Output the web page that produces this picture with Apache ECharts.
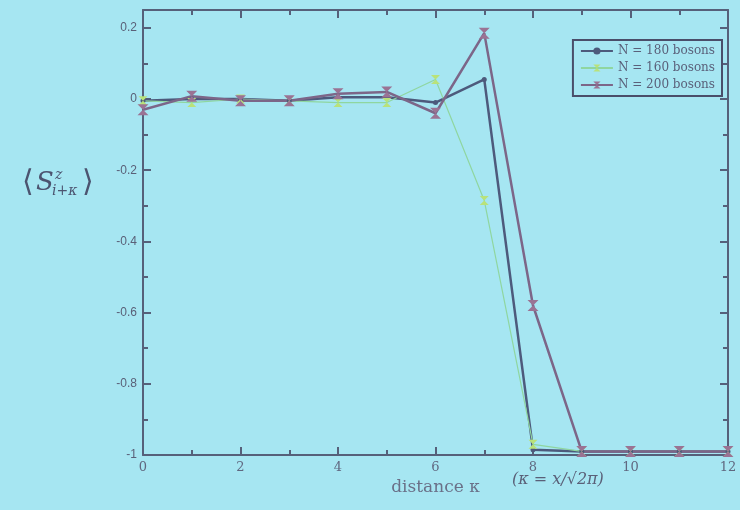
<!DOCTYPE html>
<html>
<head>
<meta charset="utf-8">
<script src="https://cdn.jsdelivr.net/npm/echarts@6/dist/echarts.min.js"></script>
<style>
html, body { margin: 0; padding: 0; background: #a6e6f2; }
#chart { width: 740px; height: 510px; }
</style>
</head>
<body>
<div id="chart"></div>
<script>
// distance kappa
var kappa = [0, 1, 2, 3, 4, 5, 6, 7, 8, 9, 10, 11, 12];
// <S^z_{i+k}>
var n180 = [-0.005, 0.0, 0.0, -0.005, 0.005, 0.005, -0.01, 0.055, -0.985, -0.99, -0.99, -0.99, -0.99];
var n160 = [-0.005, -0.01, 0.0, -0.005, -0.01, -0.01, 0.055, -0.285, -0.97, -0.99, -0.99, -0.99, -0.99];
var n200 = [-0.03, 0.008, -0.005, -0.005, 0.015, 0.02, -0.04, 0.185, -0.58, -0.99, -0.99, -0.99, -0.99];
var seriesNames = ['N = 180 bosons', 'N = 160 bosons', 'N = 200 bosons'];
var yTicks = { '0.2': '0.2', '0': '0', '-0.2': '-0.2', '-0.4': '-0.4', '-0.6': '-0.6', '-0.8': '-0.8', '-1': '-1' };

var serif = '"DejaVu Serif", "Liberation Serif", serif';
var axisCol = '#56607a';
var hourglass = 'path://M0,0L10,0L5,5L10,10L0,10L5,5Z';

function pairs(ys) {
	return kappa.map(function(k, i) { return [k, ys[i]]; });
}

// shared look of the frame axes
function frameAxis(extra) {
	var a = {
		type: 'value',
		axisLine: { show: true, onZero: false, lineStyle: { color: axisCol, width: 2 } },
		axisTick: { inside: true, length: 8, lineStyle: { color: axisCol, width: 2 } },
		minorTick: { show: true, splitNumber: 2, length: 5, lineStyle: { color: axisCol, width: 2 } },
		splitLine: { show: false },
		axisLabel: { show: false }
	};
	for (var k in extra) a[k] = extra[k];
	return a;
}

var chart = echarts.init(document.getElementById('chart'));
var option = {
	backgroundColor: '#a6e6f2',
	animation: false,
	grid: { left: 143, right: 12, top: 10, bottom: 55 },
	legend: {
		right: 18, top: 40,
		orient: 'vertical',
		itemGap: 5,
		itemWidth: 32, itemHeight: 9,
		padding: [5, 7],
		borderColor: '#4a4e6a', borderWidth: 2,
		textStyle: { fontFamily: serif, fontSize: 12, color: '#5a607a' },
		data: seriesNames
	},
	xAxis: [frameAxis({
		min: 0, max: 12, interval: 2, position: 'bottom',
		axisLabel: { fontFamily: serif, fontSize: 13, color: '#606880', margin: 6 },
		name: 'distance κ', nameLocation: 'middle', nameGap: 24,
		nameTextStyle: { fontFamily: serif, fontSize: 17, color: '#6a7088' }
	}), frameAxis({
		min: 0, max: 12, interval: 2, position: 'top'
	})],
	yAxis: [frameAxis({
		min: -1, max: 0.25, interval: 0.2, position: 'left',
		axisLabel: {
			fontFamily: '"Liberation Sans", sans-serif', fontSize: 12, color: '#5a6078', margin: 6,
			formatter: function(v) {
				var key = String(Math.round(v * 10) / 10);
				return yTicks[key] !== undefined ? yTicks[key] : '';
			}
		}
	}), frameAxis({
		min: -1, max: 0.25, interval: 0.2, position: 'right'
	})],
	series: [{
		name: seriesNames[0], type: 'line', data: pairs(n180),
		symbol: 'circle', symbolSize: 5,
		itemStyle: { color: '#4d5a7c' },
		lineStyle: { color: '#4d5a7c', width: 2.5 }
	}, {
		name: seriesNames[1], type: 'line', data: pairs(n160),
		symbol: hourglass, symbolSize: 9,
		itemStyle: { color: '#b9e27a' },
		lineStyle: { color: '#8fd6a0', width: 1.2 }
	}, {
		name: seriesNames[2], type: 'line', data: pairs(n200),
		symbol: hourglass, symbolSize: 11,
		itemStyle: { color: '#9a7394' },
		lineStyle: { color: '#7c6688', width: 2.5 }
	}],
	graphic: [{
		type: 'text', left: 22, top: 168,
		style: { text: '⟨', font: '30px ' + serif, fill: '#4c5470' }
	}, {
		type: 'text', left: 36, top: 170,
		style: { text: 'S', font: 'italic 26px ' + serif, fill: '#4c5470' }
	}, {
		type: 'text', left: 55, top: 168,
		style: { text: 'z', font: 'italic 14px ' + serif, fill: '#4c5470' }
	}, {
		type: 'text', left: 52, top: 184,
		style: { text: 'i+κ', font: 'italic 14px ' + serif, fill: '#4c5470' }
	}, {
		type: 'text', left: 82, top: 168,
		style: { text: '⟩', font: '30px ' + serif, fill: '#4c5470' }
	}, {
		type: 'text', left: 512, top: 472,
		style: { text: '(κ = x/√2π)', font: 'italic 16px ' + serif, fill: '#5a6078' }
	}]
};
chart.setOption(option);
</script>
</body>
</html>
